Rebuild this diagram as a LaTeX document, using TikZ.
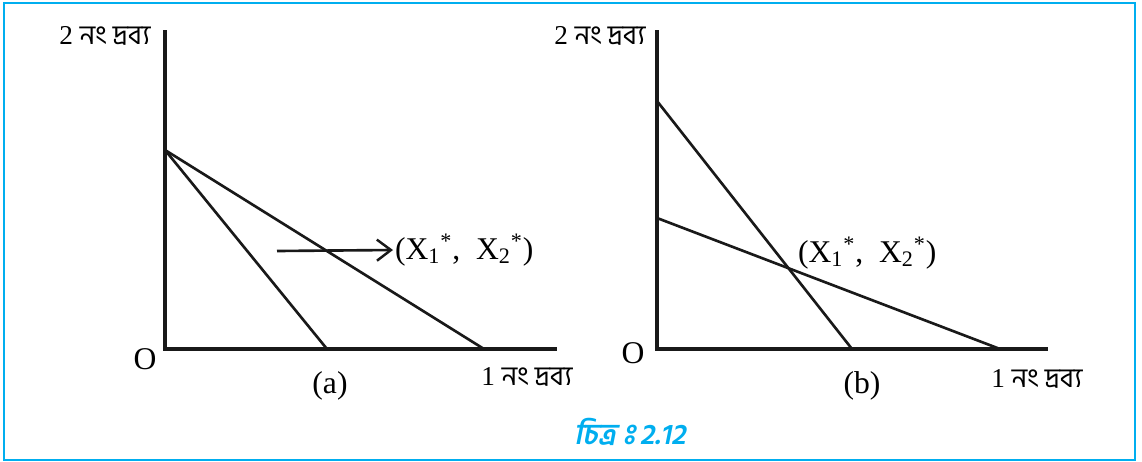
\documentclass[tikz,border=0pt]{standalone}
\usepackage{fontspec}
\usetikzlibrary{arrows.meta}
\setmainfont{Liberation Serif}
\newfontfamily\bnfont[Script=Bengali]{Hind Siliguri}
\newfontfamily\bncapfont[Script=Bengali, FakeSlant=0.2]{Hind Siliguri}
\definecolor{figcyan}{RGB}{0,174,239}

\begin{document}
\begin{tikzpicture}[
		x=0.02cm, y=0.02cm,
		axis line/.style={black!90, line width=1.8pt},
		budget line/.style={black!90, line width=1.5pt},
		frame line/.style={figcyan, line width=1.6pt},
		axis label/.style={font=\fontsize{15.5}{17}\selectfont, inner sep=1pt},
		point label/.style={font=\fontsize{18}{20}\selectfont, anchor=west, inner sep=1pt},
		origin label/.style={font=\fontsize{18}{20}\selectfont, inner sep=1pt},
		panel label/.style={font=\fontsize{18}{20}\selectfont, inner sep=1pt},
		caption text/.style={font=\bncapfont\bfseries\fontsize{16.5}{18}\selectfont, text=figcyan}
		]
		\useasboundingbox (0,0) rectangle (1142,461);
		
		% Frame
		\draw[frame line] (4,1) rectangle (1135,458);
		
		% =========================================================
		% Panel (a): one budget line turns about the vertical intercept
		% =========================================================
		\begin{scope}[shift={(165,112)}]
			% Axes
			\coordinate (a-O) at (0,0);
			\coordinate (a-ytop) at (0,319);
			\coordinate (a-xend) at (392,0);
			\draw[axis line] (a-ytop) -- (a-O) -- (a-xend);
			
			% Budget lines
			\coordinate (a-int) at (0,199);
			\coordinate (a-x1) at (162,0);
			\coordinate (a-x2) at (319,0);
			\draw[budget line] (a-int) -- (a-x1);
			\draw[budget line] (a-int) -- (a-x2);
			
			% Arrow and point label
			\coordinate (a-tail) at (112,98);
			\node[point label] (a-pt) at (228,99) {(X\textsubscript{1}\textsuperscript{*}, \ X\textsubscript{2}\textsuperscript{*})};
			\draw[budget line, -{Straight Barb[length=8pt, width=12pt, line width=1.4pt]}] (a-tail) -- (a-pt.west);
			
			% Labels
			\node[origin label] (a-o) at (-20,-10) {O};
			\node[axis label] (a-ylab) at (-60,313) {2 {\bnfont নং দ্রব্য}};
			\node[axis label] (a-xlab) at (362,-28) {1 {\bnfont নং দ্রব্য}};
			\node[panel label] (a-name) at (165,-37) {(a)};
		\end{scope}
		
		% =========================================================
		% Panel (b): two budget lines that cross
		% =========================================================
		\begin{scope}[shift={(657,112)}]
			% Axes
			\coordinate (b-O) at (0,0);
			\coordinate (b-ytop) at (0,319);
			\coordinate (b-xend) at (391,0);
			\draw[axis line] (b-ytop) -- (b-O) -- (b-xend);
			
			% Budget lines
			\coordinate (b-int1) at (0,248);
			\coordinate (b-x1) at (195,0);
			\coordinate (b-int2) at (0,131);
			\coordinate (b-x2) at (343,0);
			\draw[budget line] (b-int1) -- (b-x1);
			\draw[budget line] (b-int2) -- (b-x2);
			
			% Point label
			\node[point label] (b-pt) at (139,96) {(X\textsubscript{1}\textsuperscript{*}, \ X\textsubscript{2}\textsuperscript{*})};
			
			% Labels
			\node[origin label] (b-o) at (-24,-4) {O};
			\node[axis label] (b-ylab) at (-57,313) {2 {\bnfont নং দ্রব্য}};
			\node[axis label] (b-xlab) at (380,-30) {1 {\bnfont নং দ্রব্য}};
			\node[panel label] (b-name) at (205,-37) {(b)};
		\end{scope}
		
		% Caption
		\node[caption text] (caption) at (630,29) {চিত্র^^^^00a0ঃ\,2.12};
		
	\end{tikzpicture}
\end{document}
